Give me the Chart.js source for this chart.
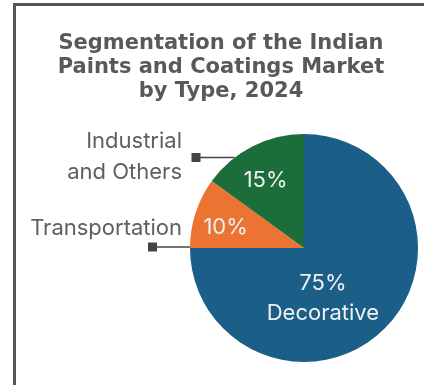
<!DOCTYPE html>
<html>
<head>
<meta charset="utf-8">
<script src="https://cdn.jsdelivr.net/npm/chart.js@4.4.1/dist/chart.umd.min.js"></script>
<style>
  html,body{margin:0;padding:0;background:#fff;}
  #wrap{position:relative;width:424px;height:385px;overflow:hidden;}
  #frame{position:absolute;left:13px;top:3px;width:430px;height:400px;border-left:3px solid #555;border-top:3px solid #555;box-sizing:border-box;}
  canvas{position:absolute;left:0;top:0;}
</style>
</head>
<body>
<div id="wrap">
  <div id="frame"></div>
  <canvas id="pie" width="424" height="385"></canvas>
</div>
<script>
// Market split by type
const segments = ['Decorative', 'Transportation', 'Industrial and Others'];
const shares = [75, 10, 15];
const colors = ['#1b5e88', '#eb7432', '#1b6d3a'];
const titleLines = ['Segmentation of the Indian', 'Paints and Coatings Market', 'by Type, 2024'];

// where text sits inside each slice: fraction along the arc, fraction of the radius
const insideLabel = [
  {along: 0.59, r: 0.47, lines: v => [v + '%', 'Decorative']},
  {along: 0.40, r: 0.71, lines: v => [v + '%']},
  {along: 0.45, r: 0.68, lines: v => [v + '%']}
];
// outside callouts: text lines, text right edge, first baseline, leader y
const callouts = {
  2: {text: ['Industrial', 'and Others'], right: 182, base: 148, lead: 157.5, marker: 196},
  1: {text: ['Transportation'], right: 182, base: 235, lead: 247, marker: 152.5}
};

const TITLE_FONT = 'bold 21px "DejaVu Sans", sans-serif';
const TEXT_FONT = '22px Inter, "Open Sans", sans-serif';

const labelsPlugin = {
  id: 'pieText',
  afterDraw(chart){
    const ctx = chart.ctx;
    ctx.save();

    // title
    ctx.fillStyle = '#595959';
    ctx.font = TITLE_FONT;
    ctx.textAlign = 'center';
    ctx.textBaseline = 'alphabetic';
    titleLines.forEach((t, i) => ctx.fillText(t, 221, 49 + i * 24.2));

    const meta = chart.getDatasetMeta(0);
    meta.data.forEach((arc, i) => {
      const {x, y, startAngle, endAngle, outerRadius} = arc.getProps(['x','y','startAngle','endAngle','outerRadius'], true);
      const cfg = insideLabel[i];
      const a = startAngle + (endAngle - startAngle) * cfg.along;
      const px = x + Math.cos(a) * outerRadius * cfg.r;
      const py = y + Math.sin(a) * outerRadius * cfg.r;
      const lines = cfg.lines(shares[i]);
      ctx.fillStyle = '#eef1f2';
      ctx.font = TEXT_FONT;
      ctx.textAlign = 'center';
      ctx.textBaseline = 'middle';
      lines.forEach((t, k) => ctx.fillText(t, px, py + (k - (lines.length - 1) / 2) * 30));

      const c = callouts[i];
      if(c){
        ctx.fillStyle = '#5f5f5f';
        ctx.font = TEXT_FONT;
        ctx.textAlign = 'right';
        ctx.textBaseline = 'alphabetic';
        c.text.forEach((t, k) => ctx.fillText(t, c.right, c.base + k * 31));
        // leader from square marker to the pie edge
        const dy = c.lead - y;
        const edgeX = x - Math.sqrt(Math.max(0, outerRadius * outerRadius - dy * dy));
        ctx.strokeStyle = '#444';
        ctx.lineWidth = 1.5;
        ctx.beginPath();
        ctx.moveTo(c.marker, c.lead);
        ctx.lineTo(edgeX, c.lead);
        ctx.stroke();
        ctx.fillStyle = '#444';
        ctx.fillRect(c.marker - 4.5, c.lead - 4.5, 9, 9);
      }
    });
    ctx.restore();
  }
};

new Chart(document.getElementById('pie'), {
  type: 'pie',
  data: {
    labels: segments,
    datasets: [{data: shares, backgroundColor: colors, borderWidth: 0}]
  },
  options: {
    responsive: false,
    animation: false,
    layout: {padding: {left: 190, right: 6, top: 134, bottom: 23}},
    plugins: {legend: {display: false}, tooltip: {enabled: false}, title: {display: false}}
  },
  plugins: [labelsPlugin]
});
</script>
</body>
</html>
